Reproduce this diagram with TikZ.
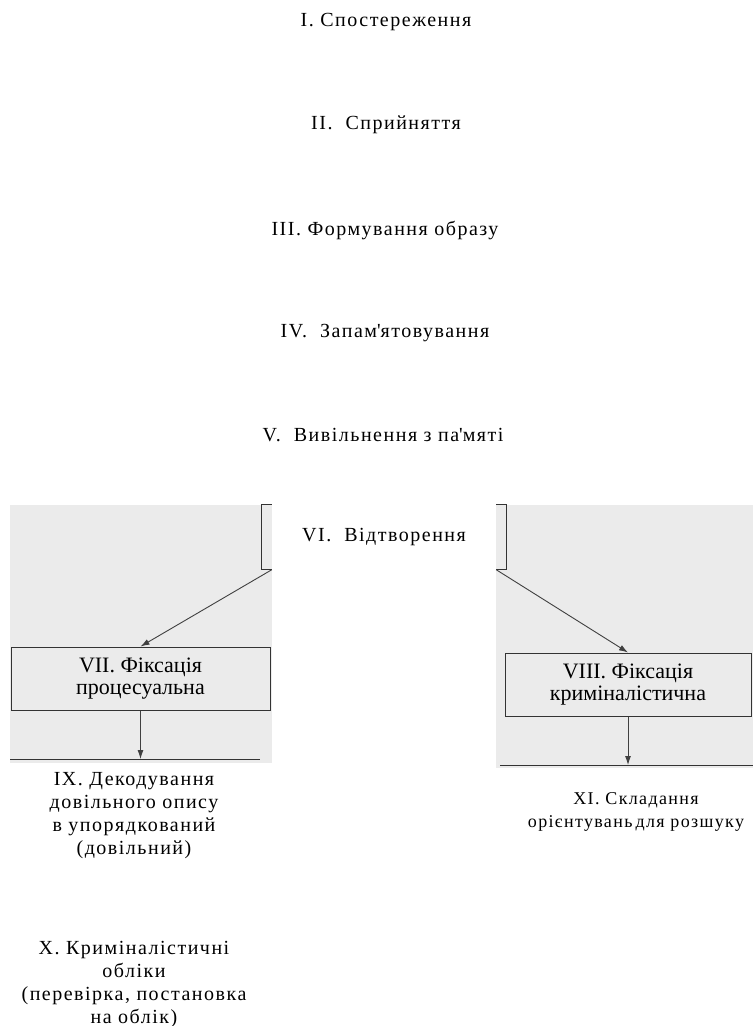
\documentclass[tikz,border=0pt]{standalone}
\usepackage{fontspec}
\setmainfont{Liberation Serif}
\newfontfamily\stagefont[LetterSpace=7.5]{Liberation Serif}
\usetikzlibrary{arrows.meta}

\begin{document}
\begin{tikzpicture}[x=1pt,y=-1pt,
	stageb/.style={
	  font=\stagefont\fontsize{20}{23}\selectfont,
	  align=center,
	  inner sep=0pt
	},
	fixb/.style={
	  draw=black!80,
	  line width=1pt,
	  font=\fontsize{22}{22}\selectfont,
	  align=center,
	  minimum height=63pt
	},
	scanb/.style={
	  fill=black!8,
	  draw=none
	},
	linkb/.style={
	  draw=black!75,
	  line width=0.9pt,
	  -{Latex[length=9pt,width=6pt]}
	}]

	\useasboundingbox (0,0) rectangle (753,1026);

	\fill[scanb] (10,505) rectangle (272,763);
	\fill[scanb] (496,505) rectangle (753,768);

	\node[stageb] (Observ) at (386,22) {I. Спостереження};
	\node[stageb] (Percept) at (386,125) {II.\ \ Сприйняття};
	\node[stageb] (Image) at (385,230) {III. Формування образу};
	\node[stageb] (Memor) at (385,333) {IV.\ \ Запам\textquotesingle ятовування};
	\node[stageb] (Release) at (383,435) {V.\ \ Вивільнення з па\textquotesingle мяті};
	\node[stageb,minimum width=244pt,minimum height=65pt] (Reprod) at (384,537) {VI.\ \ Відтворення};

	\draw[black!80,line width=1pt] ([xshift=10pt]Reprod.north west) -- (Reprod.north west)
	  -- (Reprod.south west) -- ([xshift=10pt]Reprod.south west);
	\draw[black!80,line width=1pt] ([xshift=-10pt]Reprod.north east) -- (Reprod.north east)
	  -- (Reprod.south east) -- ([xshift=-10pt]Reprod.south east);

	\node[fixb,minimum width=259pt] (ProcFix) at (140.5,678.5) {VII. Фіксація\\процесуальна};
	\node[fixb,minimum width=246pt] (CrimFix) at (628,684.5) {VIII. Фіксація\\криміналістична};

	\draw[linkb] ([xshift=10pt]Reprod.south west) -- (ProcFix.north);
	\draw[linkb] ([xshift=-10pt]Reprod.south east) -- (CrimFix.north);

	\coordinate (DecodeL) at (10,759);
	\coordinate (DecodeR) at (260,759);
	\coordinate (OrientL) at (500,765);
	\coordinate (OrientR) at (753,765);
	\draw[black!80,line width=1pt] (DecodeL) -- (DecodeR);
	\draw[black!80,line width=1pt] (OrientL) -- (OrientR);

	\draw[linkb] (ProcFix.south) -- (ProcFix.south |- DecodeL);
	\draw[linkb] (CrimFix.south) -- (CrimFix.south |- OrientL);

	\node[stageb] (Decode) at (134,816) {IX. Декодування\\довільного опису\\в упорядкований\\(довільний)};
	\node[stageb] (Records) at (134,984) {X. Криміналістичні\\обліки\\(перевірка, постановка\\на облік)};
	\node[stageb,font=\stagefont\fontsize{18}{23}\selectfont] (Orient) at (636,812) {XI. Складання\\орієнтувань\,для розшуку};
\end{tikzpicture}
\end{document}
